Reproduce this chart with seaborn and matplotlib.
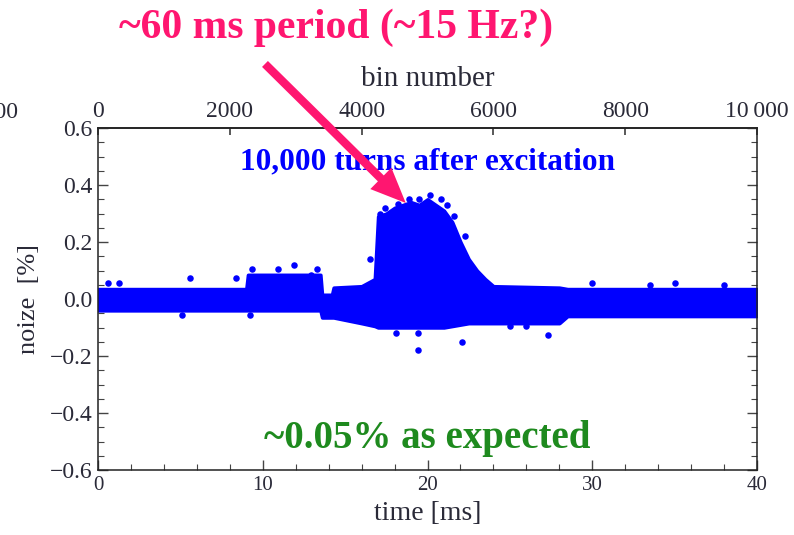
import numpy as np
import pandas as pd
import matplotlib
matplotlib.use("Agg")
import matplotlib.pyplot as plt
import seaborn as sns
from matplotlib.ticker import MultipleLocator, FixedLocator

sns.set_theme(style="white")
plt.rcParams['font.family'] = ['Liberation Serif', 'DejaVu Serif']
plt.rcParams['axes.unicode_minus'] = True

# ---- data ----
# envelope of the dense point cloud (time in ms, noise in %)
env_t = [0.0, 9.0, 9.1, 13.5, 13.6, 14.2, 14.3, 16.0, 16.8, 17.0, 17.5, 18.0,
         18.5, 19.0, 19.5, 20.0, 20.5, 21.0, 21.5, 22.0, 22.5, 23.0, 23.5,
         24.0, 28.0, 28.5, 40.0]
env_upper = [0.035, 0.035, 0.085, 0.085, 0.015, 0.015, 0.04, 0.045, 0.07, 0.29,
             0.30, 0.32, 0.33, 0.34, 0.33, 0.35, 0.33, 0.31, 0.27, 0.20, 0.14,
             0.10, 0.07, 0.045, 0.04, 0.035, 0.035]
env_lower = [-0.04, -0.04, -0.04, -0.04, -0.065, -0.065, -0.065, -0.085, -0.095,
             -0.10, -0.10, -0.10, -0.10, -0.10, -0.10, -0.10, -0.10, -0.10,
             -0.095, -0.09, -0.085, -0.085, -0.085, -0.085, -0.085, -0.06, -0.06]
# isolated points outside the dense band
out_t = [0.6, 1.3, 5.6, 8.4, 5.1, 9.2, 9.35, 10.9, 11.9, 13.3, 12.9,
         20.15, 21.2, 18.2, 17.1, 16.5, 18.9, 19.5, 17.4, 17.8, 20.8, 21.6, 22.3,
         18.1, 19.4, 22.1, 19.4, 27.3, 30.0, 35.0, 25.0, 26.0, 33.5, 38.0]
out_v = [0.055, 0.055, 0.073, 0.073, -0.056, -0.056, 0.105, 0.105, 0.12, 0.105, 0.085,
         0.365, 0.33, 0.335, 0.30, 0.14, 0.35, 0.35, 0.32, 0.25, 0.35, 0.29, 0.22,
         -0.12, -0.18, -0.15, -0.12, -0.125, 0.055, 0.055, -0.095, -0.095, 0.05, 0.05]

ms_per_bin = 40.0 / 10000.0
top_ticks = [0, 2000, 4000, 6000, 8000, 10000]
top_labels = ["0", "2000", "4000", "6000", "8000", "10\u2009000"]
y_ticks = [-0.6, -0.4, -0.2, 0.0, 0.2, 0.4, 0.6]

BLUE = "#0000ff"
PINK = "#ff1670"
GREEN = "#1e8a1e"
TXT = "#2a2a38"

fig = plt.figure(figsize=(7.94, 5.35), dpi=100)
ax = fig.add_axes([98/794, 1-470/535, (757-98)/794, (470-128)/535])

ax.fill_between(env_t, env_lower, env_upper, color=BLUE, lw=2.5, edgecolor=BLUE)
df = pd.DataFrame({"t": out_t, "v": out_v})
sns.scatterplot(data=df, x="t", y="v", ax=ax, color=BLUE, s=22, edgecolor=BLUE,
                linewidth=0, legend=False)

ax.set_xlim(0, 40)
ax.set_ylim(-0.6, 0.6)
ax.set_xlabel("time [ms]", fontsize=20, color=TXT, labelpad=5)
ax.set_ylabel("noize  [%]", fontsize=19, color=TXT, labelpad=7)

ax.xaxis.set_major_locator(MultipleLocator(10))
ax.xaxis.set_minor_locator(MultipleLocator(2))
ax.yaxis.set_major_locator(FixedLocator(y_ticks))
ax.yaxis.set_minor_locator(MultipleLocator(0.05))
ax.set_yticklabels([f"{v:.1f}".replace("-", "\u2212") for v in y_ticks])
ax.tick_params(axis="both", which="major", direction="in", length=7, width=1,
               labelcolor=TXT, color="#444444")
ax.tick_params(axis="both", which="minor", direction="in", length=4, width=0.8,
               color="#444444")
ax.tick_params(axis="x", which="both", bottom=True, top=False, pad=4, labelsize=15)
ax.tick_params(axis="y", which="both", left=True, right=True, pad=4, labelsize=17)
for s in ax.spines.values():
    s.set_color("#222222")
    s.set_linewidth(1.1)

sec = ax.secondary_xaxis("top", functions=(lambda t: t / ms_per_bin,
                                           lambda b: b * ms_per_bin))
sec.set_xticks(top_ticks)
sec.set_xticklabels(top_labels)
sec.tick_params(axis="x", direction="in", length=5, labelsize=17,
                labelcolor=TXT, color="#444444", pad=4)
sec.set_xlabel("bin number", fontsize=21, color=TXT, labelpad=11)
# partially visible label at the left edge
fig.text(18/794, 1-113/535, "2000", ha="right", va="center", fontsize=17, color=TXT)

ax.text(20, 0.48, "10,000 turns after excitation", ha="center", va="center",
        fontsize=22.5, fontweight="bold", color=BLUE)
ax.text(20, -0.49, "~0.05% as expected", ha="center", va="center",
        fontsize=28, fontweight="bold", color=GREEN)
fig.text(336/794, 1-28/535, "~60 ms period (~15 Hz?)", ha="center", va="center",
         fontsize=30, fontweight="bold", color=PINK)

ax.annotate("", xy=(18.8, 0.33), xycoords="data",
            xytext=(263/794, 1-62/535), textcoords="figure fraction",
            arrowprops=dict(arrowstyle="simple,head_width=1.8,head_length=2.1,tail_width=0.5",
                            mutation_scale=12, color=PINK, lw=0),
            annotation_clip=False)

fig.savefig("out.png", dpi=100)
